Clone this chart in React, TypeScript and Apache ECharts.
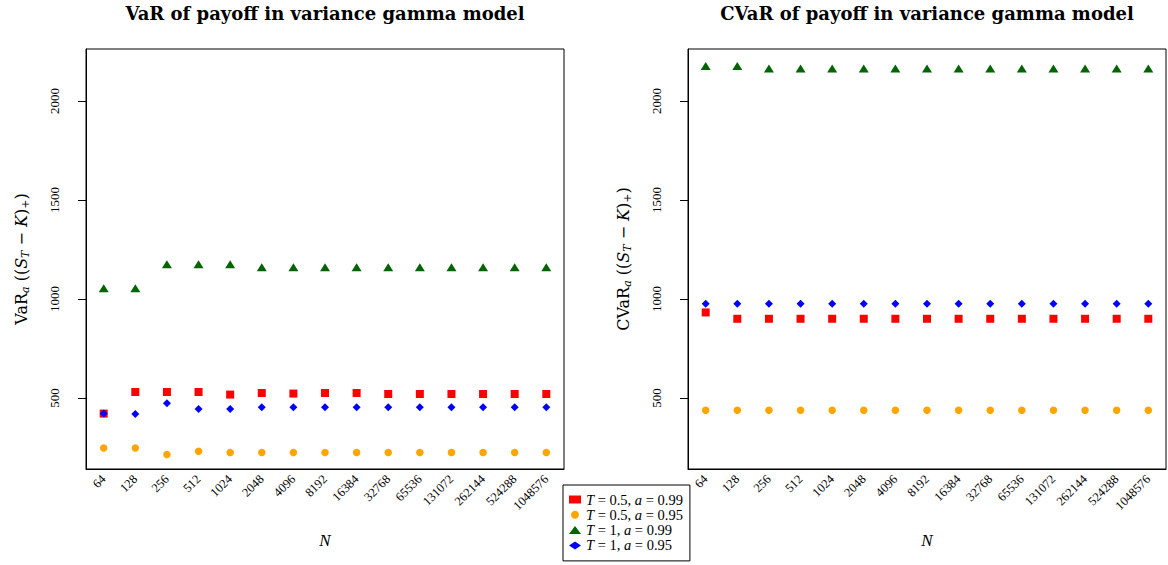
import React, { useEffect, useRef } from 'react';
import * as echarts from 'echarts';

const categories = ['64', '128', '256', '512', '1024', '2048', '4096', '8192', '16384', '32768', '65536', '131072', '262144', '524288', '1048576'];

// VaR panel
const varT05a99 = [421, 530, 530, 530, 517, 525, 522, 525, 525, 520, 520, 520, 520, 520, 520];
const varT05a95 = [247, 247, 214, 231, 224, 224, 224, 224, 224, 224, 224, 224, 224, 224, 224];
const varT1a99 = [1054, 1054, 1175, 1175, 1175, 1160, 1160, 1160, 1160, 1160, 1160, 1160, 1160, 1160, 1160];
const varT1a95 = [421, 419, 473, 444, 444, 453, 453, 453, 453, 453, 453, 453, 453, 453, 453];

// CVaR panel
const cvarT05a99 = [932, 900, 900, 900, 900, 900, 900, 900, 900, 900, 900, 900, 900, 900, 900];
const cvarT05a95 = [438, 438, 438, 438, 438, 438, 438, 438, 438, 438, 438, 438, 438, 438, 438];
const cvarT1a99 = [2177, 2177, 2165, 2165, 2165, 2165, 2165, 2165, 2165, 2165, 2165, 2165, 2165, 2165, 2165];
const cvarT1a95 = [976, 976, 976, 976, 976, 976, 976, 976, 976, 976, 976, 976, 976, 976, 976];

const yTicks = [500, 1000, 1500, 2000];
const xTicks = [1, 2, 3, 4, 5, 6, 7, 8, 9, 10, 11, 12, 13, 14, 15];

const seriesNames = ['s1', 's2', 's3', 's4'];
const legendLabels: Record<string, string> = {
  s1: '{i|T} = 0.5, {i|a} = 0.99',
  s2: '{i|T} = 0.5, {i|a} = 0.95',
  s3: '{i|T} = 1, {i|a} = 0.99',
  s4: '{i|T} = 1, {i|a} = 0.95',
};

const SERIF = "'Liberation Serif', serif";
const DSERIF = "'DejaVu Serif', serif";

export default function App() {
  const ref = useRef<HTMLDivElement>(null);
  useEffect(() => {
    const chart = echarts.init(ref.current!, null, { renderer: 'svg' });
    const gridW = 478;
    const grids = [
      { left: 86, top: 49, width: gridW, height: 420 },
      { left: 688, top: 49, width: gridW, height: 420 },
    ];
    const styles = [
      { color: '#ff0000', symbol: 'rect', size: 8 },
      { color: '#ffa500', symbol: 'circle', size: 7.5 },
      { color: '#006400', symbol: 'triangle', size: [10, 8] },
      { color: '#0000ff', symbol: 'diamond', size: [8, 8] },
    ];
    const panels = [
      [varT05a99, varT05a95, varT1a99, varT1a95],
      [cvarT05a99, cvarT05a95, cvarT1a99, cvarT1a95],
    ];
    const richName = {
      n: { fontFamily: DSERIF, fontSize: 16, color: '#000' },
      it: { fontFamily: DSERIF, fontSize: 16, fontStyle: 'italic', color: '#000' },
      s: { fontFamily: DSERIF, fontSize: 11, fontStyle: 'italic', color: '#000', padding: [8, 0, 0, 0] },
      sn: { fontFamily: DSERIF, fontSize: 11, color: '#000', padding: [8, 0, 0, 0] },
    };
    const yNames = [
      '{n|VaR}{s|a}{n| ((}{it|S}{s|T}{n| − }{it|K}{n|)}{sn|+}{n|)}',
      '{n|CVaR}{s|a}{n| ((}{it|S}{s|T}{n| − }{it|K}{n|)}{sn|+}{n|)}',
    ];
    const series: any[] = [];
    panels.forEach((panel, p) => {
      panel.forEach((vals, k) => {
        series.push({
          type: 'scatter',
          name: seriesNames[k],
          xAxisIndex: p,
          yAxisIndex: p,
          symbol: styles[k].symbol,
          symbolSize: styles[k].size,
          itemStyle: { color: styles[k].color, opacity: 1 },
          data: vals.map((v, i) => [i + 1, v]),
          z: 2 + k,
        });
      });
    });
    const option: any = {
      animation: false,
      backgroundColor: '#fff',
      grid: grids.map((g) => ({ ...g, show: true, borderColor: '#000', borderWidth: 1, backgroundColor: 'transparent' })),
      graphic: [
        {
          type: 'text', x: 325, y: 13,
          style: { text: 'VaR of payoff in variance gamma model', font: "bold 18px 'DejaVu Serif', serif", fill: '#000', textAlign: 'center', textVerticalAlign: 'middle' },
        },
        {
          type: 'text', x: 927, y: 13,
          style: { text: 'CVaR of payoff in variance gamma model', font: "bold 18px 'DejaVu Serif', serif", fill: '#000', textAlign: 'center', textVerticalAlign: 'middle' },
        },
      ],
      xAxis: [0, 1].map((p) => ({
        type: 'value',
        gridIndex: p,
        min: 0.44,
        max: 15.56,
        name: 'N',
        nameLocation: 'middle',
        nameGap: 63,
        nameTextStyle: { fontFamily: SERIF, fontSize: 17, fontStyle: 'italic', color: '#000' },
        axisLine: { show: true, lineStyle: { color: '#000', width: 1 } },
        axisTick: { show: false },
        splitLine: { show: false },
        axisLabel: {
          customValues: xTicks,
          rotate: 45,
          margin: 8,
          fontFamily: SERIF,
          fontSize: 12.5,
          color: '#000',
          formatter: (v: number) => categories[Math.round(v) - 1] ?? '',
        },
      })),
      yAxis: [0, 1].map((p) => ({
        type: 'value',
        gridIndex: p,
        min: 141,
        max: 2263,
        name: yNames[p],
        nameLocation: 'middle',
        nameGap: 55,
        nameRotate: 90,
        nameTextStyle: { rich: richName },
        axisLine: { show: true, lineStyle: { color: '#000', width: 1 } },
        axisTick: { show: true, customValues: yTicks, length: 8, lineStyle: { color: '#000' } },
        splitLine: { show: false },
        axisLabel: {
          customValues: yTicks,
          rotate: 90,
          margin: 25,
          fontFamily: SERIF,
          fontSize: 13,
          color: '#000',
          formatter: (v: number) => String(v),
        },
      })),
      legend: {
        data: seriesNames,
        orient: 'vertical',
        left: 563,
        top: 485,
        height: 150,
        borderColor: '#000',
        borderWidth: 1,
        borderRadius: 0,
        padding: [7, 7, 8, 6],
        itemGap: 0.3,
        itemWidth: 12,
        itemHeight: 8,
        selectedMode: false,
        formatter: (name: string) => legendLabels[name],
        textStyle: {
          fontFamily: SERIF,
          fontSize: 14.5,
          color: '#000',
          lineHeight: 13.5,
          rich: { i: { fontFamily: SERIF, fontSize: 14.5, fontStyle: 'italic', color: '#000', lineHeight: 13.5 } },
        },
      },
      series,
    };
    chart.setOption(option);
    return () => chart.dispose();
  }, []);
  return <div ref={ref} style={{ position: 'absolute', left: 0, top: 0, width: 1168, height: 565 }} />;
}
